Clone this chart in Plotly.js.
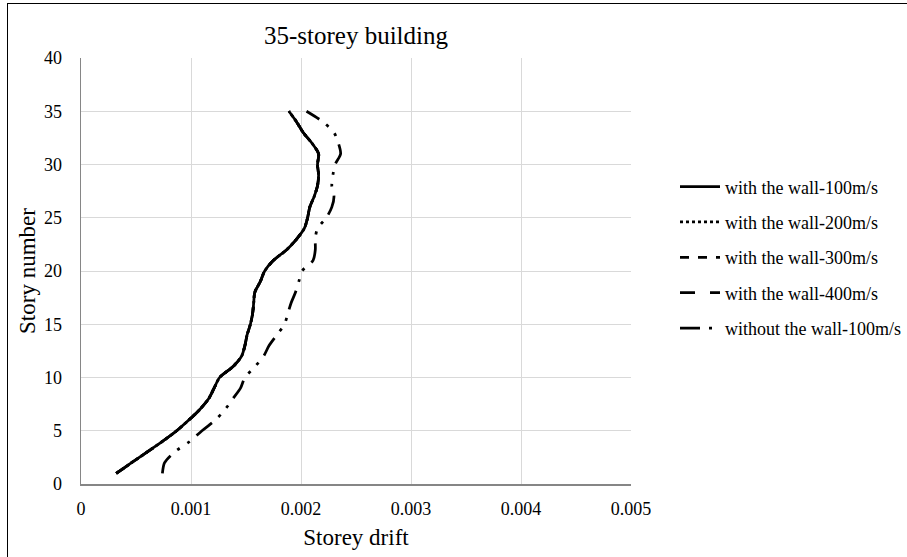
<!DOCTYPE html>
<html>
<head>
<meta charset="utf-8">
<script src="https://cdn.plot.ly/plotly-3.0.1.min.js"></script>
<style>
html,body{margin:0;padding:0;background:#fff;}
#chart{width:907px;height:557px;position:relative;}
#frame{position:absolute;left:7px;top:3px;width:1000px;height:1000px;border:1px solid #000;pointer-events:none;}
</style>
</head>
<body>
<div id="chart"></div>
<script>
const storeys = [1,2,3,4,5,6,7,8,9,10,11,12,13,14,15,16,17,18,19,20,21,22,23,24,25,26,27,28,29,30,31,32,33,34,35];
const seriesNames = ["with the wall-100m/s","with the wall-200m/s","with the wall-300m/s","with the wall-400m/s","without the wall-100m/s"];
const wall100 = [0.00032,0.00046,0.00060,0.00074,0.00087,0.00098,0.00108,0.00116,0.00121,0.00126,0.00138,0.00146,0.00149,0.00151,0.00154,0.00156,0.00157,0.00158,0.00163,0.00167,0.00175,0.00187,0.00196,0.00203,0.00206,0.00208,0.00212,0.00215,0.00216,0.00215,0.00216,0.00210,0.00202,0.00196,0.00189];
const wall200 = [0.00032,0.00046,0.00060,0.00074,0.00087,0.00098,0.00108,0.00116,0.00121,0.00126,0.00138,0.00146,0.00149,0.00151,0.00154,0.00156,0.00157,0.00158,0.00163,0.00167,0.00175,0.00187,0.00196,0.00203,0.00206,0.00208,0.00212,0.00215,0.00216,0.00215,0.00216,0.00210,0.00202,0.00196,0.00189];
const wall300 = [0.00032,0.00046,0.00060,0.00074,0.00087,0.00098,0.00108,0.00116,0.00121,0.00126,0.00138,0.00146,0.00149,0.00151,0.00154,0.00156,0.00157,0.00158,0.00163,0.00167,0.00175,0.00187,0.00196,0.00203,0.00206,0.00208,0.00212,0.00215,0.00216,0.00215,0.00216,0.00210,0.00202,0.00196,0.00189];
const wall400 = [0.00032,0.00046,0.00060,0.00074,0.00087,0.00098,0.00108,0.00116,0.00121,0.00126,0.00138,0.00146,0.00149,0.00151,0.00154,0.00156,0.00157,0.00158,0.00163,0.00167,0.00175,0.00187,0.00196,0.00203,0.00206,0.00208,0.00212,0.00215,0.00216,0.00215,0.00216,0.00210,0.00202,0.00196,0.00189];
const noWall100 = [0.00074,0.00076,0.00085,0.00099,0.00110,0.00122,0.00131,0.00138,0.00145,0.00149,0.00158,0.00166,0.00171,0.00178,0.00185,0.00188,0.00191,0.00195,0.00198,0.00201,0.00211,0.00213,0.00213,0.00215,0.00223,0.00228,0.00230,0.00228,0.00229,0.00231,0.00236,0.00234,0.00230,0.00220,0.00205];
const xTicks = [0,0.001,0.002,0.003,0.004,0.005];
const xTickLabels = ["0","0.001","0.002","0.003","0.004","0.005"];
const yTicks = [0,5,10,15,20,25,30,35,40];

const allX = [wall100, wall200, wall300, wall400, noWall100];
const dashes = ["solid","dot","dash","longdash","20px,9px,3px,9px,3px,9px"];
const drawOrder = [3,2,1,0,4];
const traces = allX.map((xs,i)=>({
  x: xs, y: storeys, type:"scatter", mode:"lines", name: seriesNames[i],
  legendgroup: "g"+i,
  line:{color:"#000000", width:2.75, dash: dashes[i], shape:"spline", smoothing:0.8},
  legendrank: i+1
}));
const ordered = drawOrder.map(k=>traces[k]);

const fontFam = '"Liberation Serif","Times New Roman",serif';
const layout = {
  width:907, height:557,
  margin:{l:81, r:276, t:58, b:73, autoexpand:false},
  paper_bgcolor:"#ffffff", plot_bgcolor:"#ffffff",
  font:{family:fontFam, color:"#000000", size:18},
  title:{text:"35-storey building", font:{family:fontFam, size:25, color:"#000"}, x:0.5, xref:"paper", xanchor:"center", y:0.937, yref:"container", yanchor:"middle"},
  xaxis:{range:[0,0.005], tickvals:xTicks, ticktext:xTickLabels, showgrid:true, gridcolor:"#d9d9d9", gridwidth:1,
    showline:true, linecolor:"#868686", linewidth:1.5, zeroline:false, ticks:"", ticklabelstandoff:8,
    tickfont:{family:fontFam, size:18, color:"#000"},
    title:{text:"Storey drift", font:{family:fontFam, size:23, color:"#000"}, standoff:11}},
  yaxis:{range:[0,40], tickvals:yTicks, showgrid:true, gridcolor:"#d9d9d9", gridwidth:1,
    showline:true, linecolor:"#868686", linewidth:1.5, zeroline:false, ticks:"", ticklabelstandoff:14,
    tickfont:{family:fontFam, size:18, color:"#000"},
    title:{text:"Story number", font:{family:fontFam, size:23, color:"#000"}, standoff:2}},
  legend:{x:1.08, xanchor:"left", y:0.741, yanchor:"top", font:{family:fontFam, size:18, color:"#000"},
    itemwidth:40, tracegroupgap:9, bgcolor:"rgba(0,0,0,0)", traceorder:"grouped"},
  showlegend:true
};
Plotly.newPlot("chart", ordered, layout, {displayModeBar:false, staticPlot:true}).then(()=>{
  const f=document.createElement('div'); f.id='frame'; document.getElementById('chart').appendChild(f);
});
</script>
</body>
</html>
